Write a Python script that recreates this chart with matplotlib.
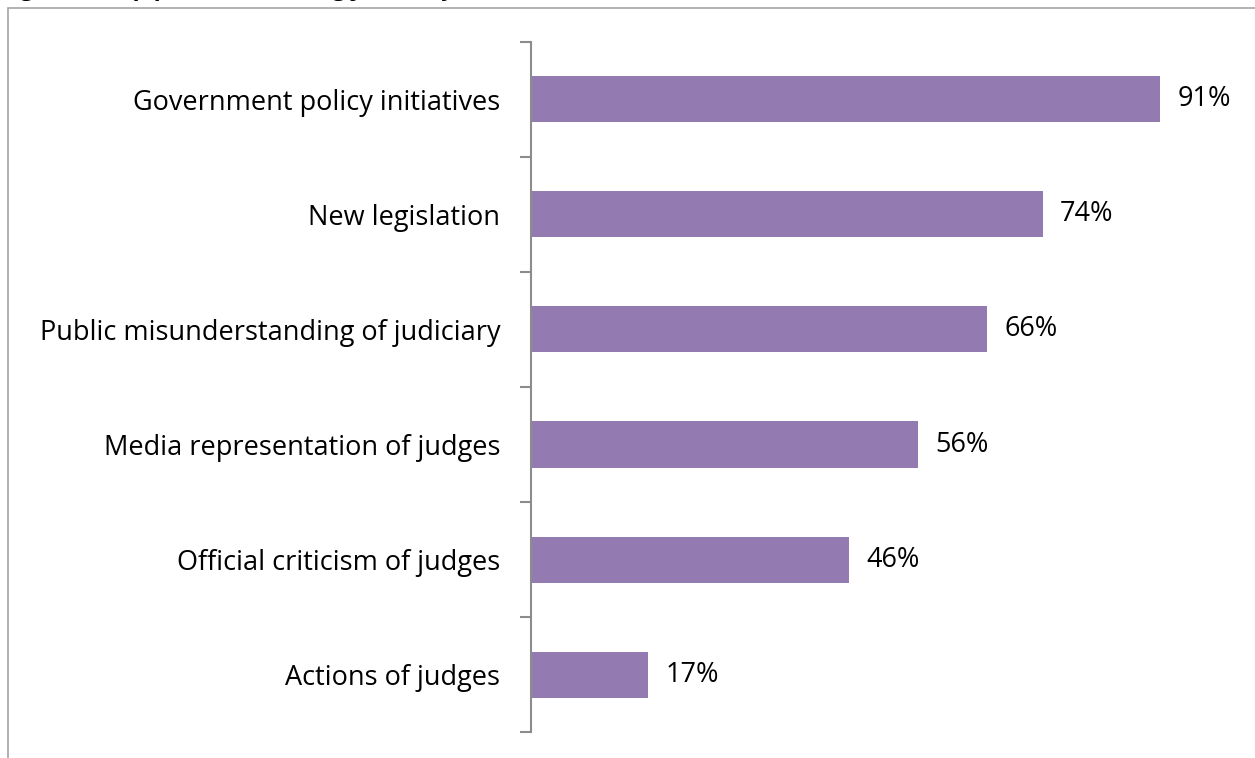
"""
Horizontal bar chart: share of respondents naming each factor
"""
import matplotlib.pyplot as plt
from matplotlib.patches import Rectangle

# categories listed bottom to top
categories = ['Actions of judges',
              'Official criticism of judges',
              'Media representation of judges',
              'Public misunderstanding of judiciary',
              'New legislation',
              'Government policy initiatives']
percent = [17, 46, 56, 66, 74, 91]

BAR_COLOR = '#937BB1'
AXIS_GREY = '#8C8C8C'
FONT = 'Open Sans'
FSIZE = 19.5

plt.rcParams['font.family'] = [FONT, 'DejaVu Sans']

fig = plt.figure(figsize=(12.55, 7.58), dpi=100)
ax = fig.add_axes([0.423, 0.034, 0.551, 0.911])

y = range(len(categories))
bars = ax.barh(y, percent, height=0.4, color=BAR_COLOR)

# value labels to the right of each bar
for bar, val in zip(bars, percent):
    ax.text(bar.get_width() + 2.5, bar.get_y() + bar.get_height() / 2,
            f'{val}%', va='center', ha='left', fontsize=FSIZE, color='black')

ax.set_xlim(0, 100)
ax.set_ylim(-0.5, len(categories) - 0.5)

# category labels, ticks between the categories
ax.set_yticks(list(y))
ax.set_yticklabels(categories, fontsize=FSIZE)
ax.set_yticks([i - 0.5 for i in range(len(categories) + 1)], minor=True)
ax.tick_params(axis='y', which='major', length=0, pad=22)
ax.tick_params(axis='y', which='minor', length=8, width=1.5, color=AXIS_GREY)
ax.set_xticks([])

for side in ['top', 'right', 'bottom']:
    ax.spines[side].set_visible(False)
ax.spines['left'].set_color(AXIS_GREY)
ax.spines['left'].set_linewidth(1.5)

# chart frame, runs off the right and bottom edges
frame = Rectangle((8 / 1255, -0.1), 1.2, 1.1 - 8 / 758,
                  transform=fig.transFigure, fill=False,
                  edgecolor='#A6A6A6', linewidth=1.2)
fig.patches.append(frame)

# heading sits above the top edge, only the descenders show
fig.text(0.0, 1.007, 'Figure 4: Top pressures facing judiciary',
         fontsize=17, fontweight='bold', ha='left', va='baseline')

fig.savefig('out.png', dpi=100)
